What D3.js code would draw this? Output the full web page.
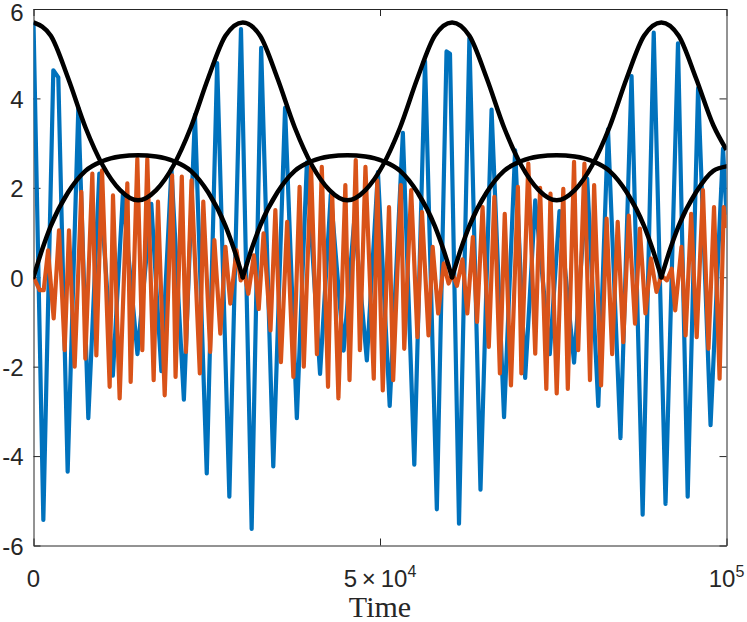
<!DOCTYPE html>
<html>
<head>
<meta charset="utf-8">
<script src="https://cdn.jsdelivr.net/npm/d3@7"></script>
<style>
  body { margin: 0; background: #fff; }
  svg text { font-family: "Liberation Sans", Arial, Helvetica, sans-serif; fill: #262626; }
</style>
</head>
<body>
<svg width="747" height="622"></svg>
<script>
// time is in thousands (0 .. 100 = 0 .. 1e5)
let blueTime = [0, 1.42, 2.86, 3.58, 4.93, 6.47, 7.91, 9.5, 11.45, 12.9, 15.0, 17.0, 18.45, 19.9, 21.7, 23.3, 25.0, 26.5, 28.26, 29.94, 31.48, 32.85, 34.6, 36.3, 38.0, 39.45, 41.35, 42.9, 44.75, 46.3, 48.1, 49.7, 51.4, 53.3, 54.95, 56.5, 58.2, 59.6, 60.1, 61.4, 62.9, 64.5, 66.1, 67.9, 69.5, 70.95, 72.4, 74.5, 75.9, 78.0, 79.9, 81.5, 82.9, 84.7, 86.3, 87.9, 89.5, 91.2, 93.0, 94.4, 95.9, 97.7, 99.5, 100];
let blueValue = [5.70, -5.43, 4.63, 4.47, -4.35, 3.79, -3.15, 2.32, -2.2, 1.85, -1.72, 1.64, -2.1, 2.42, -2.74, 3.63, -4.39, 4.79, -4.91, 5.55, -5.63, 5.13, -4.23, 3.79, -3.15, 2.57, -2.16, 1.85, -1.64, 1.3, -1.86, 2.35, -2.88, 3.23, -4.19, 4.83, -5.19, 5.05, 5.0, -5.51, 5.35, -4.75, 3.75, -3.13, 2.84, -2.25, 1.72, -1.72, 1.48, -1.91, 2.2, -2.88, 3.31, -3.6, 4.5, -5.31, 5.47, -5.07, 5.23, -4.91, 4.23, -3.31, 2.88, 1.4];

let orangeTime = [0, 0.89, 1.47, 2.1, 2.91, 3.68, 4.5, 5.12, 5.94, 6.9, 7.48, 8.49, 9.07, 9.89, 10.99, 11.47, 12.43, 13.54, 14.02, 14.98, 15.7, 16.42, 17.34, 17.96, 18.93, 20.0, 20.5, 21.4, 22.0, 22.8, 24.0, 24.5, 25.5, 26.1, 26.96, 27.7, 28.4, 29.3, 29.9, 30.4, 31.0, 31.8, 32.5, 33.2, 34.2, 34.9, 35.7, 36.6, 37.5, 38.4, 39.0, 40.05, 40.9, 41.6, 42.5, 43.1, 44.0, 45.0, 45.6, 46.5, 47.1, 47.9, 49.1, 49.6, 50.4, 51.3, 51.9, 53.0, 53.5, 54.5, 55.4, 56.06, 57.0, 57.6, 58.4, 59.2, 59.9, 60.5, 61.1, 61.9, 62.6, 63.4, 64.0, 64.8, 65.7, 66.5, 67.3, 68.0, 68.9, 69.9, 70.4, 71.4, 72.4, 73.1, 74.0, 74.6, 75.5, 76.45, 77.1, 78.0, 78.6, 79.5, 80.3, 80.9, 81.9, 82.7, 83.5, 84.3, 85.1, 85.9, 86.8, 87.5, 88.3, 89.1, 89.9, 90.6, 91.4, 92.1, 92.6, 93.5, 94.1, 94.9, 95.7, 96.6, 97.4, 98.2, 99.0, 99.6, 100];
let orangeValue = [0, -0.29, -0.29, 0.6, -0.92, 1.05, -1.63, 1.05, -2.0, 1.91, -1.82, 2.32, -1.75, 2.39, -2.45, 1.83, -2.71, 2.1, -2.34, 2.65, -1.63, 2.65, -2.3, 1.69, -2.64, 2.28, -2.23, 2.25, -1.67, 2.17, -2.15, 1.69, -1.67, 0.83, -1.26, 0.68, -0.59, 0.6, -0.07, 0.12, -0.37, 0.49, -0.71, 0.98, -1.19, 1.5, -1.9, 1.24, -2.23, 2.02, -2.0, 2.47, -1.72, 2.47, -2.45, 1.87, -2.71, 2.06, -2.3, 2.62, -1.63, 2.47, -2.27, 2.17, -2.53, 1.57, -2.3, 2.06, -1.6, 1.95, -1.34, 1.46, -1.3, 0.68, -0.81, 0.31, -0.14, 0.08, -0.19, 0.4, -0.81, 0.9, -1.0, 1.57, -1.56, 1.8, -2.15, 1.42, -2.42, 2.02, -2.15, 2.54, -1.71, 2.0, -2.5, 1.87, -2.6, 1.98, -2.5, 2.58, -1.63, 2.54, -2.3, 2.06, -2.42, 1.31, -1.72, 1.24, -1.45, 1.38, -1.04, 1.09, -0.81, 0.42, -0.33, 0.04, -0.07, 0.19, -0.74, 0.68, -1.3, 1.42, -1.34, 1.95, -1.6, 1.57, -2.27, 1.57, 1.1];

// black envelopes
let upperTime = [0, 2.5, 5, 7.5, 10, 12.5, 15.1, 17.7, 20.2, 22.7, 25.2, 27.7, 30.2, 32.7, 35.2, 37.7, 40.2, 42.7, 45.3, 47.9, 50.4, 52.9, 55.4, 57.9, 60.4, 62.9, 65.4, 67.9, 70.4, 72.9, 75.5, 78.1, 80.6, 83.1, 85.6, 88.1, 90.6, 93.1, 95.6, 98.1, 100];
let upperValue = [5.70, 5.4, 4.45, 3.35, 2.5, 1.95, 1.72, 1.95, 2.5, 3.35, 4.45, 5.4, 5.70, 5.4, 4.45, 3.35, 2.5, 1.95, 1.72, 1.95, 2.5, 3.35, 4.45, 5.4, 5.70, 5.4, 4.45, 3.35, 2.5, 1.95, 1.72, 1.95, 2.5, 3.35, 4.45, 5.4, 5.70, 5.4, 4.45, 3.4, 2.85];

let lowerTime = [0, 1.25, 2.5, 5, 7.5, 10, 12.5, 15.1, 17.7, 20.2, 22.7, 25.2, 27.7, 28.95, 30.2, 31.45, 32.7, 35.2, 37.7, 40.2, 42.7, 45.3, 47.9, 50.4, 52.9, 55.4, 57.9, 59.15, 60.4, 61.65, 62.9, 65.4, 67.9, 70.4, 72.9, 75.5, 78.1, 80.6, 83.1, 85.6, 88.1, 89.35, 90.6, 91.85, 93.1, 95.6, 98.1, 100];
let lowerValue = [0, 0.62, 1.15, 1.9, 2.38, 2.6, 2.7, 2.73, 2.7, 2.6, 2.38, 1.9, 1.15, 0.62, 0, 0.62, 1.15, 1.9, 2.38, 2.6, 2.7, 2.73, 2.7, 2.6, 2.38, 1.9, 1.15, 0.62, 0, 0.62, 1.15, 1.9, 2.38, 2.6, 2.7, 2.73, 2.7, 2.6, 2.38, 1.9, 1.15, 0.62, 0, 0.62, 1.15, 1.9, 2.38, 2.48];

let xTicks = [0, 50, 100];
let xTickBase = ["0", "5\u2009\u00d7\u200910", "10"];
let xTickExp = ["", "4", "5"];
let yTicks = [-6, -4, -2, 0, 2, 4, 6];
let xLabel = "Time";

let svg = d3.select("svg");

let plotLeft = 33.5, plotRight = 726.5, plotTop = 9, plotBottom = 545.5;

let xScale = d3.scaleLinear().domain([0, 100]).range([plotLeft, plotRight]);
let yScale = d3.scaleLinear().domain([-6, 6]).range([plotBottom, plotTop]);

let axisColor = "#262626";
let tickLen = 7;
let fontSize = 24;

// axes (ticks point inward, box on all sides)
svg.append("g")
  .attr("transform", "translate(0," + plotBottom + ")")
  .call(d3.axisBottom(xScale).tickValues(xTicks).tickSize(-tickLen).tickSizeOuter(0).tickFormat(""));
svg.append("g")
  .attr("transform", "translate(0," + plotTop + ")")
  .call(d3.axisTop(xScale).tickValues(xTicks).tickSize(-tickLen).tickSizeOuter(0).tickFormat(""));
let leftAxis = svg.append("g")
  .attr("transform", "translate(" + plotLeft + ",0)")
  .call(d3.axisLeft(yScale).tickValues(yTicks).tickSize(-tickLen).tickSizeOuter(0).tickPadding(10).tickFormat(d => String(d)));
svg.append("g")
  .attr("transform", "translate(" + plotRight + ",0)")
  .call(d3.axisRight(yScale).tickValues(yTicks).tickSize(-tickLen).tickSizeOuter(0).tickFormat(""));

svg.selectAll(".domain, .tick line").attr("stroke", axisColor).attr("stroke-width", 1);
leftAxis.selectAll("text")
  .attr("font-size", fontSize)
  .attr("font-family", null)
  .attr("fill", axisColor)
  .attr("dy", "0.37em");
// keep the topmost label inside the picture
leftAxis.selectAll(".tick").filter(d => d === 6).select("text").attr("dy", "0.48em");

// x tick labels with superscripts
xTicks.forEach((t, i) => {
  let txt = svg.append("text")
    .attr("x", xScale(t))
    .attr("y", 587)
    .attr("text-anchor", "middle")
    .attr("font-size", fontSize);
  txt.append("tspan").text(xTickBase[i]);
  if (xTickExp[i]) {
    txt.append("tspan").attr("dy", -10).attr("font-size", 16).text(xTickExp[i]);
  }
});

svg.append("text")
  .attr("x", xScale(50))
  .attr("y", 617)
  .attr("text-anchor", "middle")
  .style("font-family", "'Liberation Serif', 'DejaVu Serif', serif")
  .attr("font-size", 30)
  .text(xLabel);

// plot area
svg.append("clipPath").attr("id", "clip")
  .append("rect")
  .attr("x", plotLeft).attr("y", plotTop)
  .attr("width", plotRight - plotLeft).attr("height", plotBottom - plotTop);

let plot = svg.append("g").attr("clip-path", "url(#clip)");

let line = d3.line().x(d => xScale(d[0])).y(d => yScale(d[1]));
let smooth = d3.line().x(d => xScale(d[0])).y(d => yScale(d[1])).curve(d3.curveMonotoneX);

plot.append("path")
  .attr("d", line(d3.zip(blueTime, blueValue)))
  .attr("fill", "none")
  .attr("stroke", "#0072BD")
  .attr("stroke-width", 4.2)
  .attr("stroke-linejoin", "round");

plot.append("path")
  .attr("d", line(d3.zip(orangeTime, orangeValue)))
  .attr("fill", "none")
  .attr("stroke", "#D95319")
  .attr("stroke-width", 4.2)
  .attr("stroke-linejoin", "round");

plot.append("path")
  .attr("d", smooth(d3.zip(upperTime, upperValue)))
  .attr("fill", "none")
  .attr("stroke", "#000")
  .attr("stroke-width", 4.5);

// lower envelope has cusps at its zeros, so draw it piece by piece
let lowerPts = d3.zip(lowerTime, lowerValue);
let pieces = [];
let piece = [];
lowerPts.forEach(p => {
  piece.push(p);
  if (p[1] === 0 && piece.length > 1) {
    pieces.push(piece);
    piece = [p];
  }
});
if (piece.length > 1) pieces.push(piece);

plot.selectAll(".lower")
  .data(pieces)
  .enter()
  .append("path")
  .attr("class", "lower")
  .attr("d", d => smooth(d))
  .attr("fill", "none")
  .attr("stroke", "#000")
  .attr("stroke-width", 4.5)
  .attr("stroke-linecap", "round");
</script>
</body>
</html>
